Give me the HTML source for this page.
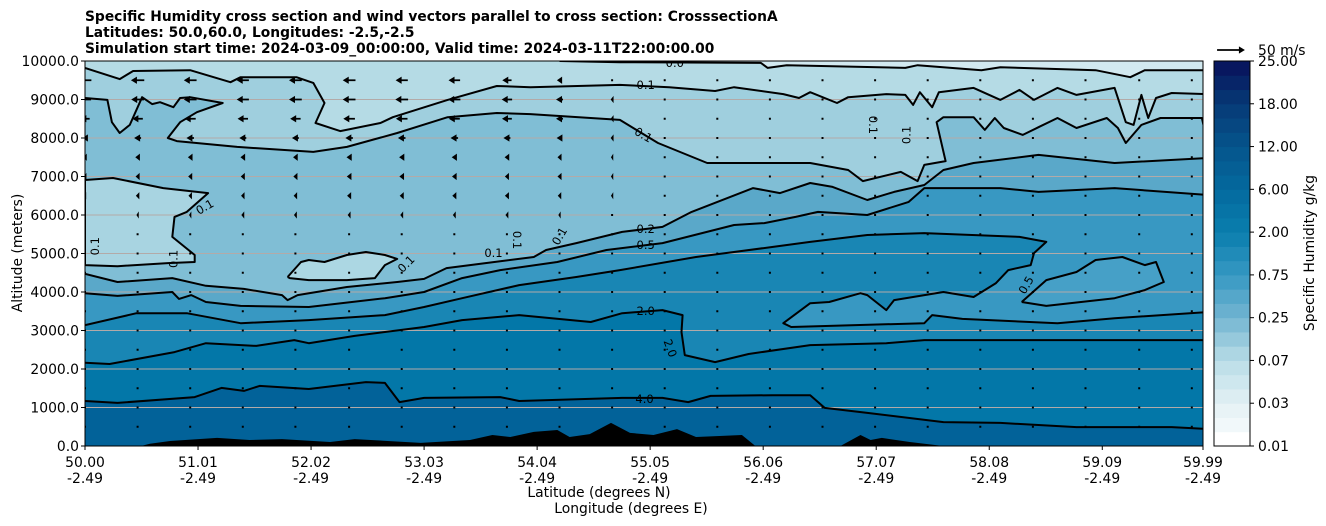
<!DOCTYPE html>
<html><head><meta charset="utf-8"><style>
html,body{margin:0;padding:0;background:#fff;}
svg{display:block;font-family:"DejaVu Sans","Liberation Sans",sans-serif;}
</style></head><body>
<svg id="chart" width="1326" height="526" viewBox="0 0 1326 526" xmlns="http://www.w3.org/2000/svg">
<defs><clipPath id="plotclip"><rect x="85" y="61" width="1118" height="385"/></clipPath></defs>
<g id="title" font-weight="bold" font-size="13.8" fill="#000">
<text x="85" y="21">Specific Humidity cross section and wind vectors parallel to cross section: CrosssectionA</text>
<text x="85" y="37">Latitudes: 50.0,60.0, Longitudes: -2.5,-2.5</text>
<text x="85" y="53">Simulation start time: 2024-03-09_00:00:00, Valid time: 2024-03-11T22:00:00.00</text>
</g>
<g id="plot" clip-path="url(#plotclip)"></g>
<g id="axes"></g>
<g id="cbar"></g>
</svg>
<script>
// ---- data ----
const xTickLons = [50.00,51.01,52.02,53.03,54.04,55.05,56.06,57.07,58.08,59.09,59.99];
const xTickLats = ["50.00","51.01","52.02","53.03","54.04","55.05","56.06","57.07","58.08","59.09","59.99"];
const xTickLonLabels = ["-2.49","-2.49","-2.49","-2.49","-2.49","-2.49","-2.49","-2.49","-2.49","-2.49","-2.49"];
const yTicks = [0,1000,2000,3000,4000,5000,6000,7000,8000,9000,10000];
const cbarLabels = ["0.01","0.03","0.07","0.25","0.75","2.00","6.00","12.00","18.00","25.00"];

const cTop = [[54.24,10000],[54.78,9970],[56.04,9950],[56.10,9820],[56.27,9890],[57.33,9820],[57.44,9890],[58.01,9760],[58.18,9840],[59.03,9760],[59.34,9580],[59.47,9760],[60.03,9760]];
const cUpper01 = [[50,9820],[50.31,9530],[50.43,9740],[50.94,9760],[51.30,9450],[51.39,9580],[51.89,9580],[52.04,9430],[52.14,8910],[52.06,8390],[52.28,8180],[52.64,8390],[52.75,8540],[53.24,8990],[53.68,9350],[53.98,9320],[54.78,9380],[55.22,9320],[55.63,9220],[55.80,9320],[56.24,9140],[56.38,9040],[56.48,9190],[56.72,8910],[56.82,9060],[57.16,9140],[57.33,9120],[57.40,8860],[57.46,9190],[57.57,8800],[57.63,9190],[57.94,9300],[58.18,8990],[58.35,9250],[58.48,8990],[58.69,9300],[58.86,9120],[59.20,9300],[59.30,8410],[59.37,8340],[59.44,9120],[59.50,8520],[59.57,9040],[59.71,9170],[60.03,9140]];
const cLower01 = [[50,9040],[50.20,8990],[50.24,8410],[50.31,8130],[50.40,8340],[50.51,9060],[50.60,8880],[50.67,8930],[50.79,8800],[50.85,9040],[50.94,9060],[51.23,8910],[51.00,8670],[50.85,8410],[50.74,8000],[50.82,7920],[51.36,7770],[52.04,7640],[52.34,7770],[52.79,8130],[53.24,8540],[53.68,8650],[53.98,8620],[54.78,8470],[55.12,7870],[55.56,7350],[56.48,7350],[56.82,7170],[56.95,6880],[57.29,7120],[57.44,6880],[57.50,7300],[57.69,7400],[57.61,8410],[57.67,8540],[57.94,8540],[58.04,8210],[58.13,8520],[58.21,8260],[58.38,8080],[58.52,8280],[58.69,8520],[58.86,8260],[59.13,8520],[59.23,8260],[59.30,7870],[59.44,8340],[59.61,8520],[59.98,8520],[60.03,7870]];
const c02 = [[50,4470],[50.29,4260],[50.78,4360],[51.08,4160],[51.42,4080],[51.76,3920],[51.81,3790],[51.90,3920],[52.34,4130],[52.79,4260],[53.03,4340],[53.23,4620],[53.71,4800],[54.01,4910],[54.12,5090],[54.39,5270],[54.80,5560],[55.16,5690],[55.42,6080],[55.97,6700],[56.21,6570],[56.48,6830],[56.68,6730],[56.99,6390],[57.23,6600],[57.50,6780],[57.67,7170],[57.94,7350],[58.52,7560],[59.20,7350],[60.03,7480]];
const c05 = [[50,3970],[50.29,3900],[50.78,4000],[50.84,3820],[50.95,3920],[51.08,3740],[51.39,3640],[52.00,3610],[52.68,3840],[53.03,4000],[53.37,4360],[53.71,4570],[54.22,4780],[54.66,5090],[55.16,5270],[55.80,5740],[56.07,5790],[56.35,5950],[56.55,6080],[56.99,6000],[57.36,6340],[57.50,6700],[58.18,6700],[58.52,6600],[59.20,6700],[60.03,6520]];
const c10 = [[50,3140],[50.46,3450],[50.91,3450],[51.39,3190],[52.00,3270],[52.68,3400],[53.03,3610],[53.37,3840],[53.88,4180],[54.39,4390],[54.78,4570],[55.46,4910],[56.14,5170],[56.48,5300],[56.99,5480],[57.50,5530],[58.35,5430],[58.59,5300],[58.48,5010],[58.45,4700],[58.25,4570],[58.14,4230],[57.94,3870],[57.67,4000],[57.23,3790],[57.16,3530],[56.99,3920],[56.93,3970],[56.65,3740],[56.48,3710],[56.24,3190],[56.31,3090],[57.50,3190],[57.57,3400],[57.84,3300],[58.69,3190],[59.20,3320],[60.04,3480]];
const c20 = [[50,2160],[50.22,2130],[50.80,2440],[51.08,2670],[51.53,2600],[51.87,2750],[52.00,2670],[52.41,2860],[53.03,3090],[53.37,3270],[53.88,3400],[54.52,3220],[54.80,3450],[55.16,3530],[55.34,3400],[55.33,2960],[55.36,2360],[55.63,2180],[55.93,2390],[56.48,2620],[57.16,2670],[57.50,2750],[58.18,2750],[60.04,2750]];
const c40 = [[50,1170],[50.29,1120],[50.98,1270],[51.22,1510],[51.42,1430],[51.56,1560],[52.00,1480],[52.51,1660],[52.68,1640],[52.81,1140],[53.03,1250],[53.71,1270],[53.88,1170],[54.80,1250],[55.16,1250],[55.39,1140],[55.59,1300],[56.14,1320],[56.48,1320],[56.61,990],[56.99,860],[57.67,620],[58.18,600],[58.86,490],[59.71,490],[60.04,440]];
const islandLeft = [[50,6910],[50.25,6960],[50.70,6700],[51.10,6570],[50.91,6080],[50.80,5950],[50.78,5430],[50.98,4960],[50.98,4780],[50.74,4750],[50.29,4670],[50,4700]];
const islandCenter = [[51.81,4390],[51.93,4780],[52.00,4830],[52.14,4780],[52.34,4960],[52.51,5040],[52.68,4960],[52.79,4860],[52.68,4700],[52.59,4360],[52.34,4310],[52.00,4310],[51.83,4360]];
const islandRight = [[58.37,3740],[58.59,4310],[58.86,4520],[59.03,4830],[59.27,4910],[59.47,4700],[59.57,4780],[59.64,4260],[59.47,4050],[59.20,3840],[58.59,3640]];
const terrainLon = [50.50,50.58,50.76,51.18,51.47,51.76,52.19,52.41,53.00,53.44,53.64,53.80,54.01,54.22,54.33,54.51,54.70,54.87,55.08,55.29,55.46,55.67,55.87,55.99,56.75,56.93,57.02,57.12,57.37,57.67];
const terrainAlt = [0,60,130,210,155,180,105,180,80,155,285,235,365,415,235,310,600,340,285,440,235,260,285,0,0,285,155,210,105,0];
const contourLabels = [["0.0",55.27,9950,0],["0.1",55.01,9380,0],["0.1",54.99,8080,30],["0.1",57.04,8340,90],["0.1",57.34,8080,-90],["0.1",51.07,6210,-30],["0.1",50.09,5190,-90],["0.1",50.79,4860,-90],["0.1",52.87,4730,-45],["0.1",53.65,5010,0],["0.1",53.86,5350,90],["0.1",54.24,5450,-60],["0.2",55.01,5640,0],["0.5",55.01,5220,0],["2.0",55.01,3510,0],["2.0",55.23,2540,70],["4.0",55.00,1220,0],["0.5",58.41,4180,-60]];
const quiverLons = [50.00,50.47,50.94,51.41,51.88,52.36,52.83,53.30,53.77,54.24,54.71,55.18,55.65,56.12,56.59,57.06,57.53,58.00,58.47,58.94,59.42,59.89];
const quiverAlts = [9500,9000,8500,8000,7500,7000,6500,6000,5500,5000,4500,4000,3500,3000,2500,2000,1500,1000,500];
const windU = [
 [-22,-23,-22,-21,-22,-22,-21,-20,-16,-9,-2,-1,-1,-1,-1,-1,-1,-1,-1,-1,-1,-1],
 [-21,-22,-22,-21,-22,-22,-22,-21,-18,-12,-5,-1,-1,-1,-1,-1,-1,-1,-1,-1,-1,-1],
 [-16,-18,-19,-18,-18,-20,-20,-19,-17,-12,-5,-1,-1,-1,-1,-1,-1,-1,-1,-1,-1,-1],
 [-10,-12,-13,-12,-12,-13,-13,-13,-12,-10,-5,-1,-1,-1,-1,-1,-1,-1,-1,-1,-1,-1],
 [-6,-8,-8,-8,-8,-9,-9,-9,-8,-7,-4,-1,-1,-1,-1,-1,-1,-1,-1,-1,-1,-1],
 [-5,-7,-7,-7,-7,-8,-8,-8,-7,-7,-4,-1,-1,-1,-1,-1,-1,-1,-1,-1,-1,-1],
 [-4,-6,-6,-6,-6,-7,-7,-7,-7,-6,-4,-1,-1,-1,-1,-1,-1,-1,-1,-1,-1,-1],
 [-2,-4,-4,-5,-5,-5,-5,-5,-5,-4,-3,-1,-1,-1,-1,-1,-1,-1,-1,-1,-1,-1],
 [-1,-1,-2,-2,-2,-3,-3,-2,-2,-2,-1,-1,-1,-1,-1,-1,-1,-1,-1,-1,-1,-1],
 [-1,-1,-1,-1,-1,-1,-1,-1,-1,-1,-1,-1,-1,-1,-1,-1,-1,-1,-1,-1,-1,-1],
 [-1,-1,-1,-1,-1,-1,-1,-1,-1,-1,-1,-1,-1,-1,-1,-1,-1,-1,-1,-1,-1,-1],
 [-1,-1,-1,-1,-1,-1,-1,-1,-1,-1,-1,-1,-1,-1,-1,-1,-1,-1,-1,-1,-1,-1],
 [-1,-1,-1,-1,-1,-1,-1,-1,-1,-1,-1,-1,-1,-1,-1,-1,-1,-1,-1,-1,-1,-1],
 [-1,-1,-1,-1,-1,-1,-1,-1,-1,-1,-1,-1,-1,-1,-1,-1,-1,-1,-1,-1,-1,-1],
 [-1,-1,-1,-1,-1,-1,-1,-1,-1,-1,-1,-1,-1,-1,-1,-1,-1,-1,-1,-1,-1,-1],
 [-1,-1,-1,-1,-1,-1,-1,-1,-1,-1,-1,-1,-1,-1,-1,-1,-1,-1,-1,-1,-1,-1],
 [-1,-1,-1,-1,-1,-1,-1,-1,-1,-1,-1,-1,-1,-1,-1,-1,-1,-1,-1,-1,-1,-1],
 [-1,-1,-1,-1,-1,-1,-1,-1,-1,-1,-1,-1,-1,-1,-1,-1,-1,-1,-1,-1,-1,-1],
 [-1,-1,-1,-1,-1,-1,-1,-1,-1,-1,-1,-1,-1,-1,-1,-1,-1,-1,-1,-1,-1,-1]
];

// ---- scales ----
const X0=85, X1=1203, Y0=446, Y1=61;
function xScale(lon){ return X0 + (lon-50)/9.99*(X1-X0); }
function yScale(alt){ return Y0 - alt/10000*(Y0-Y1); }
const NS='http://www.w3.org/2000/svg';
function mk(tag, attrs, parent){ const e=document.createElementNS(NS,tag); for(const k in attrs) e.setAttribute(k,attrs[k]); parent.appendChild(e); return e; }
function pts(arr){ return arr.map(p=>xScale(p[0]).toFixed(1)+','+yScale(p[1]).toFixed(1)); }
const FS=13.9;

const plot=document.getElementById('plot');
const axes=document.getElementById('axes');
const cbar=document.getElementById('cbar');

let bg=mk('rect',{x:X0,y:Y1,width:X1-X0,height:Y0-Y1,fill:'#b5dbe5'},plot);



let topFill=mk('path',{d:'M'+pts(cTop).join(' L')+' L'+xScale(60.1)+','+Y1+' L'+xScale(cTop[0][0])+','+Y1+' Z',fill:'#d2e9f0'},plot);



function band(arr, color, name){
  const d='M'+xScale(50)+','+yScale(arr[0][1]).toFixed(1)+' L'+pts(arr).join(' L')+' L'+xScale(60.1)+','+(Y0+2)+' L'+(X0-2)+','+(Y0+2)+' Z';
  const p=mk('path',{d:d,fill:color,'fill-rule':'evenodd'},plot);
  
  
}
band(cUpper01,'#9fcfde','humidity-band-below-upper-0.1');
band(cLower01,'#80bed5','humidity-band-below-lower-0.1');
function island(arr,color,name){
  const p=mk('path',{d:'M'+pts(arr).join(' L')+' Z',fill:color},plot);
  
  
}
island(islandLeft,'#a8d4e1','dry-pocket-left');
island(islandCenter,'#acd7e3','dry-pocket-center');
band(c02,'#5aa8c9','humidity-band-0.2');
band(c05,'#3898c2','humidity-band-0.5');
island(islandRight,'#46a0c7','dry-pocket-right');
band(c10,'#1986b4','humidity-band-1.0');
band(c20,'#0377a8','humidity-band-2.0');
band(c40,'#026299','humidity-band-4.0');

yTicks.forEach(v=>{
  if(v===0||v===10000) return;
  const l=mk('line',{x1:X0,x2:X1,y1:yScale(v),y2:yScale(v),stroke:'#b3aaa8','stroke-width':1},plot);
  
  
});

function cline(arr,name){
  const p=mk('path',{d:'M'+pts(arr).join(' L'),fill:'none',stroke:'#000','stroke-width':2,'stroke-linejoin':'round'},plot);
  
  
}
cline(cTop,'contour-0.0');
cline(cUpper01,'contour-upper-0.1');
cline(cLower01,'contour-lower-0.1');
cline(islandLeft.concat([islandLeft[0]]),'contour-left-pocket');
cline(islandCenter.concat([islandCenter[0]]),'contour-center-pocket');
cline(c02,'contour-0.2');
cline(c05,'contour-0.5');
cline(islandRight.concat([islandRight[0]]),'contour-right-pocket');
cline(c10,'contour-1.0');
cline(c20,'contour-2.0');
cline(c40,'contour-4.0');

contourLabels.forEach(c=>{
  const x=xScale(c[1]), y=yScale(c[2]);
  const t=mk('text',{x:x,y:y+4,'font-size':11.5,'text-anchor':'middle',fill:'#000',transform:'rotate('+c[3]+' '+x+' '+y+')'},plot);
  t.textContent=c[0];
  
  
});

const terr=terrainLon.map((l,i)=>[l,terrainAlt[i]]);
const tp=mk('path',{d:'M'+pts(terr).join(' L')+' Z',fill:'#000'},plot);



const PXPERMS=0.58;
function arrow(cx,cy,u,parent){
  const len=Math.abs(u)*PXPERMS;
  if(len<2){
    return mk('rect',{x:cx-1,y:cy-1,width:2,height:2,fill:'#000'},parent);
  }
  const dir=u<0?-1:1;
  const tail=cx-dir*len/2, tip=cx+dir*len/2;
  const hl=Math.min(6,len), hw=3.6;
  const base=tip-dir*hl;
  const d='M'+tail+','+(cy-0.9)+' L'+base+','+(cy-0.9)+' L'+base+','+(cy-hw)+' L'+tip+','+cy+' L'+base+','+(cy+hw)+' L'+base+','+(cy+0.9)+' L'+tail+','+(cy+0.9)+' Z';
  return mk('path',{d:d,fill:'#000'},parent);
}
quiverAlts.forEach((a,ri)=>{
  quiverLons.forEach((l,ci)=>{
    const e=arrow(xScale(l),yScale(a),windU[ri][ci],plot);
    
    
  });
});

const frame=mk('rect',{x:X0,y:Y1,width:X1-X0,height:Y0-Y1,fill:'none',stroke:'#000','stroke-width':1},axes);



yTicks.forEach(v=>{
  const y=yScale(v);
  const tk=mk('line',{x1:X0-4,x2:X0,y1:y,y2:y,stroke:'#000'},axes);
  
  
  const t=mk('text',{x:X0-6,y:y+5,'font-size':FS,'text-anchor':'end'},axes);
  t.textContent=v.toFixed(1);
  
  
});
xTickLons.forEach((v,i)=>{
  const x=xScale(v);
  const tk=mk('line',{x1:x,x2:x,y1:Y0,y2:Y0+4,stroke:'#000'},axes);
  
  
  const t=mk('text',{x:x,y:467,'font-size':FS,'text-anchor':'middle'},axes);
  t.textContent=xTickLats[i];
  
  
  const t2=mk('text',{x:x,y:483,'font-size':FS,'text-anchor':'middle'},axes);
  t2.textContent=xTickLonLabels[i];
  
  
});
let xl=mk('text',{x:599,y:497,'font-size':FS,'text-anchor':'middle'},axes);
xl.textContent='Latitude (degrees N)';


let xl2=mk('text',{x:631,y:513,'font-size':FS,'text-anchor':'middle'},axes);
xl2.textContent='Longitude (degrees E)';


let yl=mk('text',{x:22,y:253,'font-size':FS,'text-anchor':'middle',transform:'rotate(-90 22 253)'},axes);
yl.textContent='Altitude (meters)';



const kg=mk('g',{},axes);


arrow(1231,50,48,kg);
let kt=mk('text',{x:1258,y:55,'font-size':FS},kg);
kt.textContent='50 m/s';



const anchors=['#ffffff','#e3f0f4','#b9dde7','#73b5d1','#3698c2','#0a7eae','#04699e','#05548c','#063a76','#08105a'];
function hx(c){return [1,3,5].map(i=>parseInt(c.substr(i,2),16));}
function lerp(a,b,t){const A=hx(a),B=hx(b);return 'rgb('+A.map((v,i)=>Math.round(v+(B[i]-v)*t)).join(',')+')';}
const CB_X=1214, CB_W=36, NB=27, bh=(Y0-Y1)/NB;
for(let i=0;i<NB;i++){
  const f=(i===0)?0:(i+0.5)/3;
  const k=Math.min(8,Math.floor(f)), t=f-k;
  const r=mk('rect',{x:CB_X,y:Y0-(i+1)*bh,width:CB_W,height:bh+0.5,fill:lerp(anchors[k],anchors[k+1],t)},cbar);
  
  
}
const cbf=mk('rect',{x:CB_X,y:Y1,width:CB_W,height:Y0-Y1,fill:'none',stroke:'#000'},cbar);


cbarLabels.forEach((s,i)=>{
  const y=Y0-i*(Y0-Y1)/9;
  const tk=mk('line',{x1:CB_X+CB_W,x2:CB_X+CB_W+4,y1:y,y2:y,stroke:'#000'},cbar);
  
  
  const t=mk('text',{x:1258,y:y+5,'font-size':FS},cbar);
  t.textContent=s;
  
  
});
let cl=mk('text',{x:1314,y:253,'font-size':FS,'text-anchor':'middle',transform:'rotate(-90 1314 253)'},cbar);
cl.textContent='Specific Humidity g/kg';


</script>
</body></html>
